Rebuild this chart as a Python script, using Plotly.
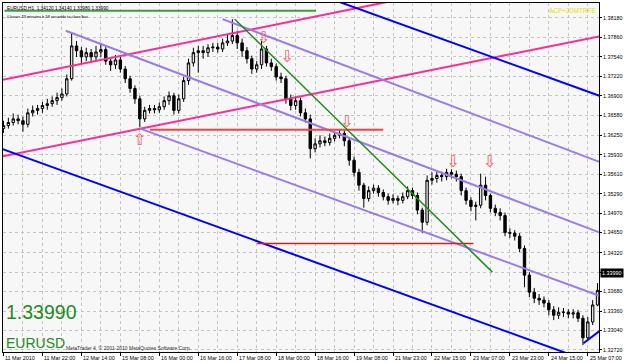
import plotly.graph_objects as go

# ---------------- data (2-hour bars, EURUSD) ----------------
first_open = 1.3636
closes = [
1.3641,1.3646,1.3652,1.3649,1.3643,1.3662,1.3666,1.3669,1.3674,1.3677,
1.3682,1.3687,1.3693,1.3718,1.3772,1.3764,1.3754,1.3761,1.3754,1.3762,
1.3766,1.3747,1.3741,1.3749,1.3734,1.3718,1.3702,1.3685,1.3652,1.3666,
1.3669,1.3667,1.3672,1.3682,1.3690,1.3666,1.3685,1.3715,1.3744,1.3761,
1.3764,1.3761,1.3769,1.3770,1.3767,1.3777,1.3780,1.3789,1.3777,1.3764,
1.3751,1.3734,1.3741,1.3767,1.3744,1.3738,1.3721,1.3718,1.3685,1.3674,
1.3682,1.3662,1.3652,1.3603,1.3611,1.3616,1.3613,1.3620,1.3625,1.3628,
1.3616,1.3584,1.3564,1.3543,1.3521,1.3534,1.3538,1.3531,1.3524,1.3518,
1.3521,1.3518,1.3524,1.3534,1.3526,1.3502,1.3482,1.3551,1.3554,1.3559,
1.3557,1.3564,1.3561,1.3557,1.3534,1.3518,1.3508,1.3510,1.3543,1.3526,
1.3505,1.3498,1.3493,1.3465,1.3464,1.3459,1.3439,1.3395,1.3367,1.3357,
1.3354,1.3349,1.3338,1.3329,1.3334,1.3334,1.3331,1.3333,1.3324,1.3292,
1.3318,1.3346,1.3370]
highs = [
1.3649,1.3654,1.3661,1.3659,1.3656,1.3669,1.3674,1.3675,1.3680,1.3685,
1.3689,1.3695,1.3702,1.3725,1.3793,1.3780,1.3770,1.3769,1.3767,1.3772,
1.3777,1.3770,1.3752,1.3757,1.3754,1.3739,1.3723,1.3707,1.3690,1.3672,
1.3675,1.3675,1.3679,1.3689,1.3697,1.3695,1.3692,1.3721,1.3751,1.3769,
1.3772,1.3772,1.3775,1.3777,1.3777,1.3784,1.3790,1.3816,1.3797,1.3784,
1.3770,1.3756,1.3747,1.3780,1.3772,1.3751,1.3743,1.3728,1.3723,1.3692,
1.3689,1.3687,1.3669,1.3659,1.3620,1.3625,1.3623,1.3628,1.3631,1.3634,
1.3633,1.3621,1.3590,1.3570,1.3547,1.3541,1.3544,1.3543,1.3536,1.3529,
1.3528,1.3526,1.3531,1.3541,1.3539,1.3531,1.3506,1.3559,1.3564,1.3567,
1.3565,1.3570,1.3569,1.3567,1.3562,1.3539,1.3523,1.3516,1.3562,1.3557,
1.3529,1.3511,1.3505,1.3498,1.3472,1.3469,1.3464,1.3444,1.3400,1.3374,
1.3364,1.3360,1.3354,1.3344,1.3342,1.3341,1.3339,1.3339,1.3338,1.3329,
1.3326,1.3354,1.3382]
lows = [
1.3629,1.3636,1.3641,1.3643,1.3631,1.3638,1.3656,1.3659,1.3662,1.3667,
1.3672,1.3675,1.3682,1.3689,1.3715,1.3754,1.3744,1.3747,1.3744,1.3747,
1.3754,1.3741,1.3731,1.3734,1.3728,1.3711,1.3695,1.3677,1.3638,1.3647,
1.3661,1.3661,1.3662,1.3667,1.3675,1.3659,1.3661,1.3680,1.3708,1.3738,
1.3728,1.3751,1.3754,1.3762,1.3761,1.3762,1.3772,1.3775,1.3767,1.3754,
1.3743,1.3726,1.3728,1.3734,1.3738,1.3731,1.3715,1.3711,1.3677,1.3666,
1.3667,1.3656,1.3646,1.3587,1.3597,1.3605,1.3607,1.3608,1.3615,1.3620,
1.3607,1.3575,1.3557,1.3534,1.3506,1.3516,1.3529,1.3524,1.3518,1.3511,
1.3513,1.3510,1.3513,1.3520,1.3520,1.3495,1.3464,1.3477,1.3544,1.3547,
1.3549,1.3551,1.3554,1.3549,1.3526,1.3511,1.3500,1.3485,1.3505,1.3518,
1.3498,1.3492,1.3485,1.3459,1.3456,1.3452,1.3433,1.3375,1.3359,1.3349,
1.3346,1.3342,1.3329,1.3321,1.3323,1.3326,1.3324,1.3324,1.3318,1.3280,
1.3288,1.3313,1.3344]

time_labels = ["11 Mar 2010", "11 Mar 22:00", "12 Mar 14:00", "15 Mar 08:00",
               "16 Mar 00:00", "16 Mar 16:00", "17 Mar 08:00", "18 Mar 00:00",
               "18 Mar 16:00", "19 Mar 08:00", "21 Mar 23:00", "22 Mar 15:00",
               "23 Mar 07:00", "23 Mar 23:00", "24 Mar 15:00", "25 Mar 07:00"]
label_bars = [0, 8, 16, 24, 32, 40, 48, 56, 64, 72, 80, 88, 96, 104, 112, 120]

price_ticks = [1.38180, 1.37860, 1.37540, 1.37220, 1.36900, 1.36580, 1.36250,
               1.35930, 1.35610, 1.35290, 1.34970, 1.34650, 1.34320, 1.33990,
               1.33680, 1.33360, 1.33040, 1.32720]
bid_price = 1.33990

# trend lines: (bar index pairs, price pairs)
pink_x = [[-0.41, 81.1], [-0.41, 123.8]]
pink_y = [[1.3716, 1.3848], [1.3590, 1.3790]]
blue_x = [[68.4, 123.8], [-0.41, 123.8], [119.1, 122.4]]
blue_y = [[1.3846, 1.3686], [1.3603, 1.3243], [1.3283, 1.3303]]
purple_x = [[12.8, 123.8], [45.0, 123.8], [28.1, 123.8]]
purple_y = [[1.3797, 1.3461], [1.3816, 1.3577], [1.3636, 1.3357]]
green_x = [47.5, 100.4]
green_y = [1.3816, 1.3400]
top_green_x = [0.2, 64.2]
top_green_y = [1.3830, 1.3830]
red_hi_x = [30.1, 78.0]
red_hi_y = [1.3634, 1.3634]
red_lo_x = [52.1, 96.5]
red_lo_y = [1.3447, 1.3447]
down_arrow_x = [53.4, 58.2, 70.5, 92.3, 99.8]
down_arrow_y = [1.3784, 1.3752, 1.3646, 1.3580, 1.3579]
up_arrow_x = [27.9]
up_arrow_y = [1.3616]

# ---------------- figure ----------------
n = min(len(closes), len(highs), len(lows))
closes, highs, lows = closes[:n], highs[:n], lows[:n]
opens = [first_open] + closes[:-1]
highs = [max(h, o, c) for h, o, c in zip(highs, opens, closes)]
lows = [min(l, o, c) for l, o, c in zip(lows, opens, closes)]
bars = list(range(n))

fig = go.Figure()

def add_line(xs, ys, color, width):
    fig.add_trace(go.Scatter(x=xs, y=ys, mode="lines",
                             line=dict(color=color, width=width),
                             hoverinfo="skip", showlegend=False))

add_line(top_green_x, top_green_y, "#3E9E3E", 2)
for xs, ys in zip(pink_x, pink_y):
    add_line(xs, ys, "#FF2A93", 2)
for xs, ys in zip(blue_x, blue_y):
    add_line(xs, ys, "#0000FF", 2)
for xs, ys in zip(purple_x, purple_y):
    add_line(xs, ys, "#9A7DE4", 2)
add_line(red_hi_x, red_hi_y, "#FF4040", 2)
add_line(red_lo_x, red_lo_y, "#D42020", 1.5)

fig.add_trace(go.Candlestick(
    x=bars, open=opens, high=highs, low=lows, close=closes,
    increasing=dict(line=dict(color="#000000", width=1), fillcolor="#E6E6E6"),
    decreasing=dict(line=dict(color="#000000", width=1), fillcolor="#000000"),
    whiskerwidth=0, showlegend=False, hoverinfo="skip"))

add_line(green_x, green_y, "#1E8C1E", 1.5)

fig.add_trace(go.Scatter(x=down_arrow_x, y=down_arrow_y, mode="text",
                         text=["\u21e9"] * len(down_arrow_x),
                         textfont=dict(family="DejaVu Sans", size=16, color="#F06060"),
                         showlegend=False, hoverinfo="skip"))
fig.add_trace(go.Scatter(x=up_arrow_x, y=up_arrow_y, mode="text",
                         text=["\u21e7"] * len(up_arrow_x),
                         textfont=dict(family="DejaVu Sans", size=16, color="#F06060"),
                         showlegend=False, hoverinfo="skip"))

annotations = []
for b, t in zip(label_bars, time_labels):
    annotations.append(dict(x=b, y=0, xref="x", yref="paper", text=t,
                            xanchor="left", yanchor="top", yshift=-1, xshift=0,
                            showarrow=False,
                            font=dict(family="Liberation Sans", size=5.4, color="#000000")))
annotations += [
    dict(x=0.0035, y=0.996, xref="paper", yref="paper", xanchor="left", yanchor="top",
         text="EURUSD,H1  1.34120 1.34140 1.33980 1.33990", showarrow=False,
         font=dict(family="Liberation Sans", size=4.7, color="#000000")),
    dict(x=0.0035, y=0.974, xref="paper", yref="paper", xanchor="left", yanchor="top",
         text="0 hours 23 minutes e 58 seconds to close bar", showarrow=False,
         font=dict(family="Liberation Sans", size=4.0, color="#000000")),
    dict(x=0.998, y=0.993, xref="paper", yref="paper", xanchor="right", yanchor="top",
         text="ACP+20MTRFE", showarrow=False,
         font=dict(family="Liberation Sans", size=6.5, color="#E2E200")),
    dict(x=0.002, y=0.115, xref="paper", yref="paper", xanchor="left", yanchor="middle",
         text="1.33990", showarrow=False,
         font=dict(family="Liberation Sans", size=19.5, color="#228B22")),
    dict(x=0.002, y=0.026, xref="paper", yref="paper", xanchor="left", yanchor="middle",
         text="EURUSD", showarrow=False,
         font=dict(family="Liberation Sans", size=14, color="#228B22")),
    dict(x=0.102, y=0.012, xref="paper", yref="paper", xanchor="left", yanchor="middle",
         text="MetaTrader 4, \u00a9 2001-2010 MetaQuotes Software Corp.",
         showarrow=False,
         font=dict(family="Liberation Sans", size=5, color="#333333")),
    dict(x=1, y=bid_price, xref="paper", yref="y", xanchor="left", yanchor="middle",
         xshift=1, text="1.33990", showarrow=False, bgcolor="#000000", borderpad=1,
         font=dict(family="Liberation Sans", size=5.4, color="#FFFFFF")),
]

fig.update_layout(
    width=625, height=363,
    margin=dict(l=2, r=22, t=2, b=11),
    paper_bgcolor="#FFFFFF", plot_bgcolor="#F7F7F7",
    showlegend=False,
    annotations=annotations,
    xaxis=dict(range=[-0.1, 122.3], rangeslider=dict(visible=False),
               tickvals=label_bars, showticklabels=False, ticks="outside",
               ticklen=3, tickcolor="#000000",
               showgrid=True, gridcolor="#C4C4C4", griddash="dot", gridwidth=1,
               minor=dict(dtick=4, tick0=0, showgrid=True, gridcolor="#C4C4C4",
                          griddash="dot", gridwidth=1),
               showline=True, linecolor="#000000", linewidth=1, mirror=True,
               zeroline=False, fixedrange=True),
    yaxis=dict(range=[1.32686, 1.38426], side="right",
               tickvals=price_ticks, ticktext=["%.5f" % p for p in price_ticks],
               tickfont=dict(family="Liberation Sans", size=5.4, color="#000000"),
               ticks="outside", ticklen=2, tickcolor="#000000",
               showgrid=True, gridcolor="#C4C4C4", griddash="dot", gridwidth=1,
               showline=True, linecolor="#000000", linewidth=1, mirror=True,
               zeroline=False, fixedrange=True),
)

fig.write_html("out.html")
